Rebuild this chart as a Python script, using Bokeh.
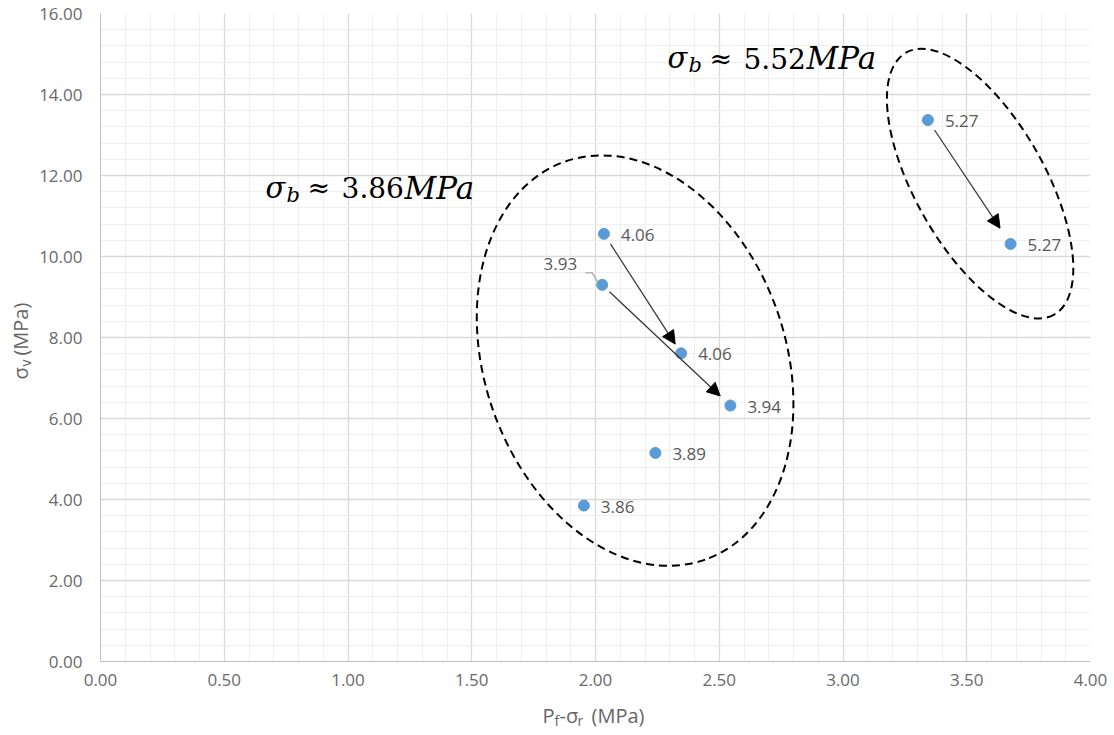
import math
from bokeh.plotting import figure
from bokeh.layouts import row, column
from bokeh.models import (ColumnDataSource, SingleIntervalTicker, PrintfTickFormatter,
                          Label, Arrow, NormalHead, Range1d)
from bokeh.embed import file_html
from bokeh.resources import INLINE
from bokeh.core.properties import value

# ---------------- data ----------------
x_vals = [1.953, 2.242, 2.027, 2.034, 2.346, 2.545, 3.343, 3.677]
y_vals = [3.85, 5.15, 9.30, 10.56, 7.61, 6.32, 13.37, 10.31]
point_labels = ["3.86", "3.89", "3.93", "4.06", "4.06", "3.94", "5.27", "5.27"]
arrow_from = [3, 2, 6]
arrow_to = [4, 5, 7]
group_values = ["3.86", "5.52"]
x_tick_interval = 0.5
y_tick_interval = 2.0

# ---------------- layout constants ----------------
FW, FH = 990, 648
X0, X1, Y0, Y1 = 0.0, 4.0, 0.0, 16.0
PXX = FW / (X1 - X0)   # px per x unit
PXY = FH / (Y1 - Y0)   # px per y unit
YT_W = 34              # width of strip holding the y title
BL, BR, BT, BB = 66, 22, 13, 38
XT_H = 32              # height of strip holding the x title

p = figure(frame_width=FW, frame_height=FH,
           x_range=Range1d(X0, X1), y_range=Range1d(Y0, Y1),
           output_backend="svg", toolbar_location=None,
           min_border_left=BL, min_border_right=BR,
           min_border_top=BT, min_border_bottom=BB)
p.outline_line_color = None
p.background_fill_color = "white"
p.border_fill_color = "white"

p.xaxis.ticker = SingleIntervalTicker(interval=x_tick_interval, num_minor_ticks=5)
p.yaxis.ticker = SingleIntervalTicker(interval=y_tick_interval, num_minor_ticks=5)
for ax in (p.xaxis, p.yaxis):
    ax.formatter = PrintfTickFormatter(format="%.2f")
    ax.major_tick_line_color = None
    ax.minor_tick_line_color = None
    ax.major_tick_out = 0
    ax.major_tick_in = 0
    ax.minor_tick_out = 0
    ax.minor_tick_in = 0
    ax.axis_line_color = "#bfbfbf"
    ax.major_label_text_font = "Open Sans"
    ax.major_label_text_font_size = "17px"
    ax.major_label_text_color = "#6a6a6a"
p.xaxis.major_label_standoff = 12
p.yaxis.major_label_standoff = 18

for g in (p.xgrid, p.ygrid):
    g.grid_line_color = "#d9d9d9"
    g.grid_line_width = 1.3
    g.minor_grid_line_color = "#efefef"
    g.minor_grid_line_width = 1

# ---------------- ellipses (screen sizes) ----------------
p.ellipse(x=[2.160, 3.554], y=[7.43, 11.80],
          width=[422, 301], height=[301, 130], angle=[-70.6, -60.5],
          angle_units="deg", width_units="screen", height_units="screen",
          fill_color=None, line_color="black", line_width=2, line_dash="8 5")

# ---------------- arrows ----------------
xs, ys, xe, ye = [], [], [], []
gaps_start = [12, 10, 12]
gaps_end = [11, 14, 19]
for k, (i, j) in enumerate(zip(arrow_from, arrow_to)):
    dx = (x_vals[j] - x_vals[i]) * PXX
    dy = (y_vals[j] - y_vals[i]) * PXY
    L = math.hypot(dx, dy)
    ux, uy = dx / L, dy / L
    xs.append(x_vals[i] + ux * gaps_start[k] / PXX)
    ys.append(y_vals[i] + uy * gaps_start[k] / PXY)
    xe.append(x_vals[j] - ux * gaps_end[k] / PXX)
    ye.append(y_vals[j] - uy * gaps_end[k] / PXY)
arrow_src = ColumnDataSource(dict(x_start=xs, y_start=ys, x_end=xe, y_end=ye))
p.add_layout(Arrow(x_start="x_start", y_start="y_start", x_end="x_end", y_end="y_end",
                   source=arrow_src, line_color="#333333", line_width=1.2,
                   end=NormalHead(size=13, fill_color="black", line_color="black")))

# ---------------- points ----------------
src = ColumnDataSource(dict(x=x_vals, y=y_vals, lab=point_labels))
p.scatter("x", "y", source=src, size=11, fill_color="#5b9bd5", line_color="#5b9bd5")

right_idx = [k for k in range(len(x_vals)) if k != 2]
rsrc = ColumnDataSource(dict(x=[x_vals[k] for k in right_idx],
                             y=[y_vals[k] for k in right_idx],
                             lab=[point_labels[k] for k in right_idx]))
p.text("x", "y", text="lab", source=rsrc, x_offset=17, y_offset=1,
       text_font=value("Open Sans"), text_font_size="17px", text_color="#595959",
       text_baseline="middle", text_align="left")
lsrc = ColumnDataSource(dict(x=[x_vals[2]], y=[y_vals[2]], lab=[point_labels[2]]))
p.text("x", "y", text="lab", source=lsrc, x_offset=-25, y_offset=-21,
       text_font=value("Open Sans"), text_font_size="17px", text_color="#595959",
       text_baseline="middle", text_align="right")
lead_px = [(-17, 12), (-10, 12), (-4, 2)]
p.line([x_vals[2] + a / PXX for a, b in lead_px],
       [y_vals[2] + b / PXY for a, b in lead_px],
       line_color="#a6a6a6", line_width=1.2)

# ---------------- group annotations ----------------
anchors = [(0.667, 11.70), (2.291, 14.89)]
serif = "DejaVu Serif"
for (ax_, ay_), gv in zip(anchors, group_values):
    p.add_layout(Label(x=ax_, y=ay_, text="σ", text_font=serif, text_font_style="italic",
                       text_font_size="29px", text_color="black", text_baseline="alphabetic"))
    p.add_layout(Label(x=ax_, y=ay_, x_offset=21, y_offset=-7, text="b", text_font=serif,
                       text_font_style="italic", text_font_size="21px", text_color="black",
                       text_baseline="alphabetic"))
    p.add_layout(Label(x=ax_, y=ay_, x_offset=42, text="≈", text_font=serif,
                       text_font_size="27px", text_color="black", text_baseline="alphabetic"))
    p.add_layout(Label(x=ax_, y=ay_, x_offset=76, text=gv, text_font=serif,
                       text_font_size="28px", text_color="black", text_baseline="alphabetic"))
    p.add_layout(Label(x=ax_, y=ay_, x_offset=139, text="MPa", text_font=serif,
                       text_font_style="italic", text_font_size="31px", text_color="black",
                       text_baseline="alphabetic"))

# ---------------- axis titles (separate strips so they are not clipped) ----------------
tc = "#666666"

xt = figure(frame_width=FW, frame_height=XT_H, x_range=p.x_range, y_range=Range1d(0, XT_H),
            min_border_left=BL, min_border_right=BR, min_border_top=0, min_border_bottom=0,
            x_axis_type=None, y_axis_type=None, output_backend="svg", toolbar_location=None)
xt.outline_line_color = None
xt.xgrid.visible = False
xt.ygrid.visible = False
xt_x, xt_y = 2.0, 16
for txt, off, dy, fs in [("P", -53, 0, "20px"), ("f", -41, -5, "14px"), ("-σ", -36, 0, "20px"),
                         ("r", -18, -5, "14px"), ("(MPa)", -4, 0, "20px")]:
    xt.add_layout(Label(x=xt_x, y=xt_y, x_offset=off, y_offset=dy, text=txt,
                        text_font="Open Sans", text_font_size=fs, text_color=tc,
                        text_baseline="middle"))

yt = figure(frame_width=YT_W, frame_height=FH, x_range=Range1d(0, YT_W), y_range=p.y_range,
            min_border_left=0, min_border_right=0, min_border_top=BT,
            min_border_bottom=BB + XT_H,
            x_axis_type=None, y_axis_type=None, output_backend="svg", toolbar_location=None)
yt.outline_line_color = None
yt.xgrid.visible = False
yt.ygrid.visible = False
yt_x, yt_y = 20, 6.96
for txt, off, dx, fs in [("σ", 0, 0, "20px"), ("v", 13, 5, "14px"), ("(MPa)", 24, 0, "20px")]:
    yt.add_layout(Label(x=yt_x, y=yt_y, x_offset=dx, y_offset=off, text=txt,
                        text_font="Open Sans", text_font_size=fs, text_color=tc,
                        text_baseline="middle", angle=math.pi / 2))

layout = row(yt, column(p, xt))
open("out.html", "w").write(file_html(layout, INLINE))
